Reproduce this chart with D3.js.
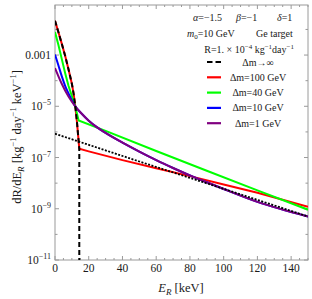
<!DOCTYPE html>
<html><head><meta charset="utf-8">
<script src="https://cdn.jsdelivr.net/npm/d3@7"></script>
<style>
body{margin:0;background:#fff}
text{font-family:"Liberation Serif","Times New Roman",serif;fill:#1a1a1a}
</style></head><body>
<script>
// recoil energies (keV) and rates (kg^-1 day^-1 keV^-1)
var eSteep   = [0, 2, 4, 6, 8, 10, 11, 12, 13, 14, 14.4];
var infSteep = [2.19e-2, 7.9e-3, 2.8e-3, 9.5e-4, 2.8e-4, 7.6e-5, 3.2e-5, 1.05e-5, 2.5e-6, 4.5e-7, 2.2e-7];
var eCut = 14.4;
var eTail   = [0, 50, 100, 150];
var infTail = [8.5e-7, 7.0e-8, 6.0e-9, 5.0e-10];

var eRedTail = [20, 40, 60, 80, 100, 120, 150];
var redTail  = [1.74e-7, 7.9e-8, 3.8e-8, 1.88e-8, 8.9e-9, 4.2e-9, 1.2e-9];

var eGreen = [0, 2, 4, 6, 8, 10, 12, 13, 14, 30, 60, 90, 120, 150];
var green  = [7.9e-3, 2.5e-3, 7.1e-4, 2.0e-4, 6.3e-5, 2.5e-5, 1.0e-5, 5.2e-6, 2.8e-6, 1.1e-6, 1.8e-7, 3.05e-8, 5.2e-9, 9.2e-10];

var eBlue = [0, 2, 4, 6, 8, 10, 12, 16, 20, 25, 30, 40, 50, 60, 70, 80, 90, 100, 120, 150];
var blue  = [1.05e-3, 4.0e-4, 1.5e-4, 6.3e-5, 3.2e-5, 1.7e-5, 1.0e-5, 5.0e-6, 2.75e-6, 1.5e-6, 9.1e-7, 3.8e-7, 1.7e-7, 7.9e-8, 3.9e-8, 2.0e-8, 1.08e-8, 5.9e-9, 1.85e-9, 5.0e-10];

var ePurple = [0, 4, 8, 12, 16, 20, 25, 30, 40, 50, 60, 70, 80, 90, 100, 120, 150];
var purple  = [3.1e-4, 7.6e-5, 2.4e-5, 1.0e-5, 5.0e-6, 2.75e-6, 1.5e-6, 9.1e-7, 3.8e-7, 1.7e-7, 7.9e-8, 3.9e-8, 2.0e-8, 1.08e-8, 5.9e-9, 1.85e-9, 5.0e-10];

var xTicks = [0, 20, 40, 60, 80, 100, 120, 140];
var yTicks = [1e-3, 1e-5, 1e-7, 1e-9, 1e-11];
var yTickLabels = [["0.001", ""], ["10", "\u22125"], ["10", "\u22127"], ["10", "\u22129"], ["10", "\u221211"]];
var legendNames = ["\u0394m\u2192\u221e", "\u0394m=100 GeV", "\u0394m=40 GeV", "\u0394m=10 GeV", "\u0394m=1 GeV"];
var legendColors = ["#000", "#ff0000", "#00ff00", "#0000ff", "#800080"];

function zip(a, b) { return a.map(function(d, i) { return [d, b[i]]; }); }

var svg = d3.select("body").append("svg")
    .attr("width", 312)
    .attr("height", 299);

var x = d3.scaleLinear().domain([0, 150]).range([55, 308]);
var y = d3.scaleLog().domain([1e-11, 0.09]).range([260, 5]);

svg.append("clipPath").attr("id", "clip")
  .append("rect").attr("x", 55).attr("y", 5).attr("width", 253).attr("height", 255);

// frame + ticks
var g = svg.append("g");
g.append("rect").attr("x", 55).attr("y", 5).attr("width", 253).attr("height", 255)
  .attr("fill", "none").attr("stroke", "#9a9a9a").attr("stroke-width", 1);

d3.range(0, 151, 5).forEach(function(v) {
  var len = (v % 20 === 0) ? 4 : 2;
  g.append("line").attr("x1", x(v)).attr("x2", x(v)).attr("y1", 260).attr("y2", 260 - len).attr("stroke", "#9a9a9a");
  g.append("line").attr("x1", x(v)).attr("x2", x(v)).attr("y1", 5).attr("y2", 5 + len).attr("stroke", "#9a9a9a");
});
d3.range(-11, -1).forEach(function(p) {
  var v = Math.pow(10, p);
  var len = (p % 2 !== 0) ? 4 : 2.5;
  g.append("line").attr("x1", 55).attr("x2", 55 + len).attr("y1", y(v)).attr("y2", y(v)).attr("stroke", "#9a9a9a");
  g.append("line").attr("x1", 308).attr("x2", 308 - len).attr("y1", y(v)).attr("y2", y(v)).attr("stroke", "#9a9a9a");
});

svg.selectAll("text.xt")
  .data(xTicks)
  .enter().append("text")
    .attr("class", "xt")
    .attr("x", function(d) { return x(d); })
    .attr("y", 272)
    .attr("text-anchor", "middle")
    .style("font-size", "11.5px")
    .text(function(d) { return d; });

yTicks.forEach(function(v, i) {
  var t = svg.append("text")
    .attr("x", 51)
    .attr("y", y(v) + 4)
    .attr("text-anchor", "end")
    .style("font-size", "11.5px");
  t.append("tspan").text(yTickLabels[i][0]);
  if (yTickLabels[i][1]) {
    t.append("tspan").attr("dy", -5).style("font-size", "8px").text(yTickLabels[i][1]);
  }
});

// axis titles
var xl = svg.append("text").attr("x", 181).attr("y", 292).attr("text-anchor", "middle").style("font-size", "12.5px");
xl.append("tspan").style("font-style", "italic").text("E");
xl.append("tspan").attr("dy", 3).style("font-size", "9px").style("font-style", "italic").text("R");
xl.append("tspan").attr("dy", -3).text(" [keV]");

var yl = svg.append("text").attr("transform", "translate(21,137) rotate(-90)").attr("text-anchor", "middle").style("font-size", "12.5px");
yl.append("tspan").text("dR/dE");
yl.append("tspan").attr("dy", 3).style("font-size", "9px").style("font-style", "italic").text("R");
yl.append("tspan").attr("dy", -3).text(" [kg");
yl.append("tspan").attr("dy", -5).style("font-size", "8.5px").text("\u22121");
yl.append("tspan").attr("dy", 5).text(" day");
yl.append("tspan").attr("dy", -5).style("font-size", "8.5px").text("\u22121");
yl.append("tspan").attr("dy", 5).text(" keV");
yl.append("tspan").attr("dy", -5).style("font-size", "8.5px").text("\u22121");
yl.append("tspan").attr("dy", 5).text("]");

// curves
var line = d3.line().x(function(d) { return x(d[0]); }).y(function(d) { return y(d[1]); });
var smooth = d3.line().curve(d3.curveMonotoneX).x(function(d) { return x(d[0]); }).y(function(d) { return y(d[1]); });
var plot = svg.append("g").attr("clip-path", "url(#clip)");

var redData = zip(eSteep, infSteep).concat(zip(eRedTail, redTail));
var infData = zip(eSteep, infSteep).concat([[eCut, 1e-13]]);

plot.append("path").attr("d", line(redData)).attr("fill", "none").attr("stroke", "#ff0000").attr("stroke-width", 2);
plot.append("path").attr("d", line(zip(eGreen, green))).attr("fill", "none").attr("stroke", "#00ff00").attr("stroke-width", 2);
plot.append("path").attr("d", smooth(zip(eBlue, blue))).attr("fill", "none").attr("stroke", "#0000ff").attr("stroke-width", 2);
plot.append("path").attr("d", smooth(zip(ePurple, purple))).attr("fill", "none").attr("stroke", "#800080").attr("stroke-width", 2);
plot.append("path").attr("d", line(zip(eTail, infTail))).attr("fill", "none").attr("stroke", "#000").attr("stroke-width", 1.8).attr("stroke-dasharray", "2,1.5");
plot.append("path").attr("d", line(infData)).attr("fill", "none").attr("stroke", "#000").attr("stroke-width", 2).attr("stroke-dasharray", "5,3");

// header text
var fs = "10px";
var h1 = svg.append("text").attr("y", 21).style("font-size", fs);
h1.append("tspan").attr("x", 193).style("font-style", "italic").text("\u03b1");
h1.append("tspan").text("=\u22121.5");
h1.append("tspan").attr("x", 236).style("font-style", "italic").text("\u03b2");
h1.append("tspan").text("=\u22121");
h1.append("tspan").attr("x", 277).style("font-style", "italic").text("\u03b4");
h1.append("tspan").text("=1");

var h2 = svg.append("text").attr("y", 37).style("font-size", fs);
h2.append("tspan").attr("x", 187).style("font-style", "italic").text("m");
h2.append("tspan").attr("dy", 2).style("font-size", "7px").text("0");
h2.append("tspan").attr("dy", -2).text("=10 GeV");
h2.append("tspan").attr("x", 256).text("Ge target");

var h3 = svg.append("text").attr("x", 294).attr("y", 53).attr("text-anchor", "end").style("font-size", fs);
h3.append("tspan").text("R=1. \u00d7 10");
h3.append("tspan").attr("dy", -4).style("font-size", "7px").text("\u22124");
h3.append("tspan").attr("dy", 4).text(" kg");
h3.append("tspan").attr("dy", -4).style("font-size", "7px").text("\u22121");
h3.append("tspan").attr("dy", 4).text("day");
h3.append("tspan").attr("dy", -4).style("font-size", "7px").text("\u22121");

// legend
var leg = svg.selectAll("g.leg")
  .data(legendNames)
  .enter().append("g")
    .attr("class", "leg")
    .attr("transform", function(d, i) { return "translate(0," + (62 + i * 15.3) + ")"; });
leg.append("line")
  .attr("x1", 207).attr("x2", 221).attr("y1", 0).attr("y2", 0)
  .attr("stroke", function(d, i) { return legendColors[i]; })
  .attr("stroke-width", 2.2)
  .attr("stroke-dasharray", function(d, i) { return i === 0 ? "5.5,3" : null; });
leg.append("text")
  .attr("x", 258).attr("y", 3.5)
  .attr("text-anchor", "middle")
  .style("font-size", fs)
  .text(function(d) { return d; });
</script>
</body></html>
